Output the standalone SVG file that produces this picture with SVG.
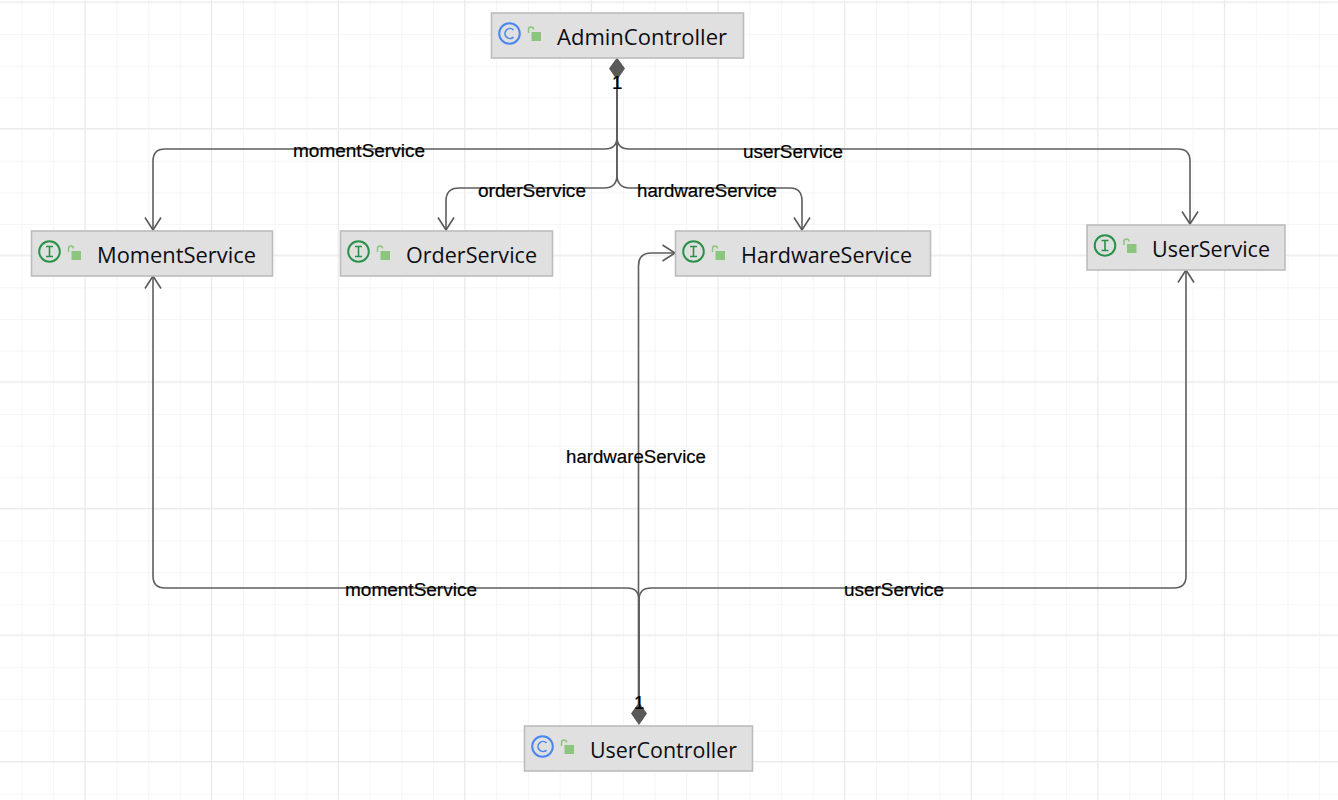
<svg xmlns="http://www.w3.org/2000/svg" width="1338" height="800" viewBox="0 0 1338 800">
<defs>
<pattern id="minor" width="31.65" height="31.65" patternUnits="userSpaceOnUse" x="21.5" y="2.5"><path d="M0.5 0V31.65M0 0.5H31.65" fill="none" stroke="#f5f5f5" stroke-width="1"/></pattern>
<pattern id="major" width="126.6" height="126.6" patternUnits="userSpaceOnUse" x="84.5" y="1.5"><path d="M0.5 0V126.6M0 0.5H126.6" fill="none" stroke="#e9e9e9" stroke-width="1"/></pattern>
<marker id="open" markerUnits="userSpaceOnUse" markerWidth="20" markerHeight="20" refX="16" refY="9" orient="auto"><path d="M3.5 1L16 9L3.5 17" fill="none" stroke="#595959" stroke-width="1.6"/></marker>
<g id="ci"><circle r="10.300" fill="none" stroke="#4a86f0" stroke-width="2"/><path d="M4 -3.6A5 5 0 1 0 4 3.6" fill="none" stroke="#4a86f0" stroke-width="1.700"/></g>
<g id="ii"><circle r="10.300" fill="none" stroke="#2a9148" stroke-width="2"/><path d="M-3.500 -5H3.500M-3.500 5H3.500M0 -5V5" fill="none" stroke="#2a9148" stroke-width="1.600"/></g>
<g id="lk"><path d="M-5.500 -2V-5.500Q-5.500 -8 -3 -8Q-0.500 -8 -0.500 -5.500" fill="none" stroke="#8cc67e" stroke-width="1.500"/><rect x="-2.500" y="-3" width="9.500" height="9" fill="#8cc67e"/></g>
</defs>
<style>
.box{fill:#e0e0e0;stroke:#bcbcbc;stroke-width:1.6}
.name{font:22px "Open Sans","Noto Sans",sans-serif;fill:#0d0d14}
.lbl{font:18.800px "Liberation Sans",Arial,sans-serif;fill:#000;stroke:#000;stroke-width:.2}
.c{fill:none;stroke:#5e5e5e;stroke-width:1.6}
.d{fill:#595959}
</style>
<rect width="1338" height="800" fill="#fff"/>
<rect width="1338" height="800" fill="url(#minor)"/>
<rect width="1338" height="800" fill="url(#major)"/>
<g id="connectors">
<path class="c" d="M617 76V137Q617 149 605 149H165Q153 149 153 161V230" marker-end="url(#open)"/>
<path class="c" d="M617 76V137Q617 149 629 149H1178Q1190 149 1190 161V224" marker-end="url(#open)"/>
<path class="c" d="M617 76V175Q617 188 604 188H459Q446 188 446 201V230" marker-end="url(#open)"/>
<path class="c" d="M617 76V175Q617 188 630 188H790Q802 188 802 201V230" marker-end="url(#open)"/>
<path class="c" d="M639 706V600Q639 588 627 588H165Q153 588 153 576V276" marker-end="url(#open)"/>
<path class="c" d="M639 706V600Q639 588 651 588H1174Q1186 588 1186 576V270" marker-end="url(#open)"/>
<path class="c" d="M638.500 706V266Q638.500 253 651 253H675" marker-end="url(#open)"/>
<path class="d" d="M617 57.500L625 68.500L617 80L609 68.500Z"/>
<path class="d" d="M639 702.500L647 713.500L639 725L631 713.500Z"/>
</g>
<g id="labels">
<text class="lbl" x="293" y="157" textLength="132" lengthAdjust="spacingAndGlyphs">momentService</text>
<text class="lbl" x="743" y="158" textLength="100" lengthAdjust="spacingAndGlyphs">userService</text>
<text class="lbl" x="478" y="197" textLength="108" lengthAdjust="spacingAndGlyphs">orderService</text>
<text class="lbl" x="637" y="197" textLength="140" lengthAdjust="spacingAndGlyphs">hardwareService</text>
<text class="lbl" x="566" y="463" textLength="140" lengthAdjust="spacingAndGlyphs">hardwareService</text>
<text class="lbl" x="345" y="596" textLength="132" lengthAdjust="spacingAndGlyphs">momentService</text>
<text class="lbl" x="844" y="596" textLength="100" lengthAdjust="spacingAndGlyphs">userService</text>
<text class="lbl" x="612" y="89">1</text>
<text class="lbl" x="634" y="709">1</text>
</g>
<g id="AdminController"><rect class="box" x="491.500" y="13" width="252" height="45"/><use href="#ci" x="509.500" y="33.500"/><use href="#lk" x="534" y="35"/><text class="name" x="557" y="45" textLength="170" lengthAdjust="spacingAndGlyphs">AdminController</text></g>
<g id="MomentService"><rect class="box" x="31.500" y="231" width="241" height="45"/><use href="#ii" x="49.500" y="251.500"/><use href="#lk" x="74" y="254"/><text class="name" x="97" y="263" textLength="159" lengthAdjust="spacingAndGlyphs">MomentService</text></g>
<g id="OrderService"><rect class="box" x="340.500" y="231" width="212" height="45"/><use href="#ii" x="358.500" y="251.500"/><use href="#lk" x="383" y="254"/><text class="name" x="406" y="263" textLength="131" lengthAdjust="spacingAndGlyphs">OrderService</text></g>
<g id="HardwareService"><rect class="box" x="675.500" y="231" width="255" height="45"/><use href="#ii" x="693.500" y="251.500"/><use href="#lk" x="718" y="254"/><text class="name" x="741" y="263" textLength="171" lengthAdjust="spacingAndGlyphs">HardwareService</text></g>
<g id="UserService"><rect class="box" x="1087" y="225" width="198" height="45"/><use href="#ii" x="1105" y="245.500"/><use href="#lk" x="1129.500" y="247"/><text class="name" x="1152" y="257" textLength="118" lengthAdjust="spacingAndGlyphs">UserService</text></g>
<g id="UserController"><rect class="box" x="524.500" y="726" width="228" height="45"/><use href="#ci" x="542.500" y="746.500"/><use href="#lk" x="567" y="748"/><text class="name" x="590" y="758" textLength="147" lengthAdjust="spacingAndGlyphs">UserController</text></g>
</svg>
